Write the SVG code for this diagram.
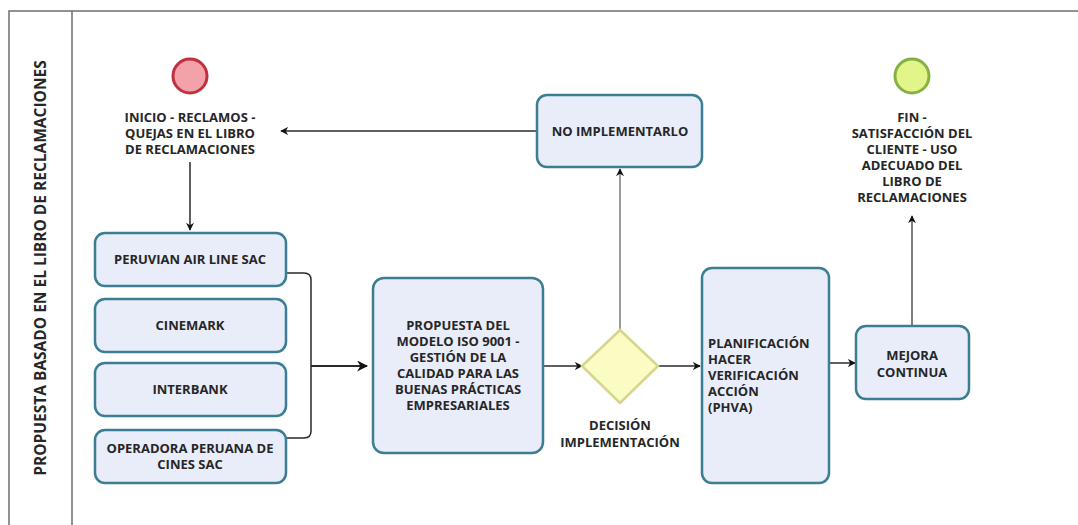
<svg xmlns="http://www.w3.org/2000/svg" width="1078" height="525" viewBox="0 0 1078 525">
<style>
.t{font-family:"Open Sans","Liberation Sans",sans-serif;font-weight:bold;font-size:13px;fill:#262626;text-anchor:middle}
.tl{text-anchor:start}
.box{fill:#e9edf9;stroke:#3b7d92;stroke-width:2.5}
.c{fill:none;stroke:#2a2a2a;stroke-width:1.5}
.g{fill:none;stroke:#7a7a7a;stroke-width:1.5}
.lane{fill:none;stroke:#6e6e6e;stroke-width:1.5}
</style>
<defs>
<marker id="ah" viewBox="0 0 10 10" refX="9" refY="5" markerWidth="8" markerHeight="8" markerUnits="userSpaceOnUse" orient="auto">
<path d="M0,0 L10,5 L0,10 L3,5 z" fill="#111"/>
</marker>
<marker id="ahb" viewBox="0 0 10 10" refX="9" refY="5" markerWidth="11" markerHeight="11" markerUnits="userSpaceOnUse" orient="auto">
<path d="M0,0 L10,5 L0,10 L3,5 z" fill="#111"/>
</marker>
</defs>
<rect width="1078" height="525" fill="#ffffff"/>
<g id="pool">
<path class="lane" d="M1078,11 L9,11 L9,525 M72,11 L72,525"/>
<text class="t" style="font-size:15.5px" transform="translate(46,268) rotate(-90)">PROPUESTA BASADO EN EL LIBRO DE RECLAMACIONES</text>
</g>
<g id="connectors">
<path class="c" d="M190,162 L190,230" marker-end="url(#ah)"/>
<path class="c" d="M537,131 L281,131" marker-end="url(#ah)"/>
<path class="c" d="M287,273 L304,273 Q311,273 311,280 L311,431 Q311,438 304,438 L287,438"/>
<path class="c" style="stroke-width:2" d="M311,366 L367,366" marker-end="url(#ahb)"/>
<path class="c" d="M544,366 L582,366" marker-end="url(#ah)"/>
<path class="g" d="M620,329 L620,169" marker-end="url(#ah)"/>
<path class="c" d="M658,366 L700,366" marker-end="url(#ah)"/>
<path class="c" d="M830,363 L855,363" marker-end="url(#ah)"/>
<path class="g" style="stroke:#555" d="M912,325 L912,216" marker-end="url(#ah)"/>
</g>
<g id="start">
<circle cx="190" cy="76" r="17" fill="#f3a2aa" stroke="#c0303e" stroke-width="3"/>
<text class="t" x="190" y="122">INICIO - RECLAMOS -</text>
<text class="t" x="190" y="138">QUEJAS EN EL LIBRO</text>
<text class="t" x="190" y="154">DE RECLAMACIONES</text>
</g>
<g id="peruvian">
<rect class="box" x="95" y="233" width="191" height="53" rx="10"/>
<text class="t" x="190" y="264">PERUVIAN AIR LINE SAC</text>
</g>
<g id="cinemark">
<rect class="box" x="95" y="299" width="191" height="53" rx="10"/>
<text class="t" x="190" y="330">CINEMARK</text>
</g>
<g id="interbank">
<rect class="box" x="95" y="363" width="191" height="53" rx="10"/>
<text class="t" x="190" y="394">INTERBANK</text>
</g>
<g id="operadora">
<rect class="box" x="95" y="430" width="191" height="53" rx="10"/>
<text class="t" x="190" y="453">OPERADORA PERUANA DE</text>
<text class="t" x="190" y="469">CINES SAC</text>
</g>
<g id="propuesta">
<rect class="box" x="373" y="278" width="170" height="175" rx="11"/>
<text class="t" x="458" y="330">PROPUESTA DEL</text>
<text class="t" x="458" y="346">MODELO ISO 9001 -</text>
<text class="t" x="458" y="362">GESTIÓN DE  LA</text>
<text class="t" x="458" y="378">CALIDAD PARA LAS</text>
<text class="t" x="458" y="394">BUENAS PRÁCTICAS</text>
<text class="t" x="458" y="410">EMPRESARIALES</text>
</g>
<g id="decision">
<path d="M620,330 L658,366 L620,403 L582,366 Z" fill="#fbfbc4" stroke="#d6d68a" stroke-width="2.5"/>
<text class="t" x="620" y="430">DECISIÓN</text>
<text class="t" x="620" y="447">IMPLEMENTACIÓN</text>
</g>
<g id="no-implementarlo">
<rect class="box" x="537" y="95" width="165" height="72" rx="10"/>
<text class="t" x="620" y="136">NO IMPLEMENTARLO</text>
</g>
<g id="phva">
<rect class="box" x="702" y="268" width="127" height="215" rx="10"/>
<text class="t tl" x="708" y="348">PLANIFICACIÓN</text>
<text class="t tl" x="708" y="364">HACER</text>
<text class="t tl" x="708" y="380">VERIFICACIÓN</text>
<text class="t tl" x="708" y="396">ACCIÓN</text>
<text class="t tl" x="708" y="412">(PHVA)</text>
</g>
<g id="mejora">
<rect class="box" x="856" y="326" width="113" height="73" rx="10"/>
<text class="t" x="912" y="360">MEJORA</text>
<text class="t" x="912" y="377">CONTINUA</text>
</g>
<g id="end">
<circle cx="912" cy="76" r="17" fill="#e2f58a" stroke="#86b040" stroke-width="3"/>
<text class="t" x="912" y="122">FIN -</text>
<text class="t" x="912" y="138">SATISFACCIÓN DEL</text>
<text class="t" x="912" y="154">CLIENTE - USO</text>
<text class="t" x="912" y="170">ADECUADO DEL</text>
<text class="t" x="912" y="186">LIBRO DE</text>
<text class="t" x="912" y="202">RECLAMACIONES</text>
</g>
</svg>
